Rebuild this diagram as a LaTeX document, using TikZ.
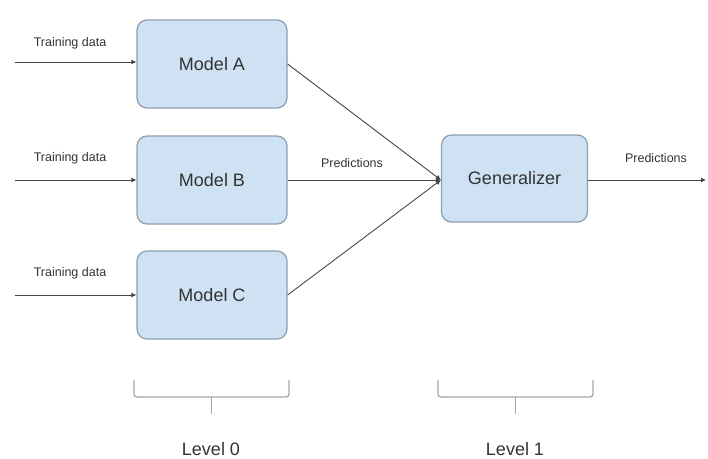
\documentclass[tikz,border=0pt]{standalone}
\usepackage{fontspec}
\setmainfont{Liberation Sans}
\usetikzlibrary{arrows.meta}
\definecolor{boxfill}{HTML}{CFE2F3}
\definecolor{boxline}{HTML}{8C9DB0}
\definecolor{txt}{HTML}{333333}
\definecolor{ln}{HTML}{444444}
\begin{document}
\begin{tikzpicture}[x=1pt,y=-1pt,
  model/.style={draw=boxline,line width=1.2pt,fill=boxfill,rounded corners=10pt,
    minimum width=150pt,minimum height=88pt,inner sep=0pt,text=txt,font=\fontsize{18}{20}\selectfont},
  conn/.style={draw=ln,line width=0.9pt,-{Latex[length=5pt,width=5pt]}},
  small/.style={text=txt,font=\fontsize{12.5}{14}\selectfont,inner sep=0pt},
  brace/.style={draw=gray!70,line width=1.3pt,rounded corners=3pt},
  lvl/.style={text=txt,font=\fontsize{18}{20}\selectfont,inner sep=0pt}]
\useasboundingbox (0,0) rectangle (708,458);
\node[model] (A) at (212,64) {Model A};
\node[model] (B) at (212,180) {Model B};
\node[model] (C) at (212,295) {Model C};
\node[model,minimum width=146pt,minimum height=87pt] (G) at (514.5,178.5) {Generalizer};
\coordinate (inA) at (15,62);
\coordinate (inB) at (15,180);
\coordinate (inC) at (15,295);
\coordinate (out) at (706,180);
\draw[conn] (inA) -- (A.west |- inA);
\draw[conn] (inB) -- (B.west |- inB);
\draw[conn] (inC) -- (C.west |- inC);
\coordinate (gin) at (G.west |- inB);
\draw[conn] (A.east |- 0,64) -- (gin);
\draw[conn] (B.east |- inB) -- (gin);
\draw[conn] (C.east |- 0,295) -- (gin);
\draw[conn] (G.east |- out) -- (out);
\node[small] (tA) at (70,43) {Training data};
\node[small] (tB) at (70,158) {Training data};
\node[small] (tC) at (70,273) {Training data};
\node[small] (p1) at (352,163) {Predictions};
\node[small] (p2) at (656,158) {Predictions};
\draw[brace] (134,380) -- (134,397) -- (289,397) -- (289,380);
\draw[draw=gray!70,line width=1.3pt] (211.5,397) -- (211.5,414);
\draw[brace] (438,380) -- (438,397) -- (593,397) -- (593,380);
\draw[draw=gray!70,line width=1.3pt] (515.5,397) -- (515.5,414);
\node[lvl] (L0) at (211,449) {Level 0};
\node[lvl] (L1) at (515,449) {Level 1};
\end{tikzpicture}
\end{document}
